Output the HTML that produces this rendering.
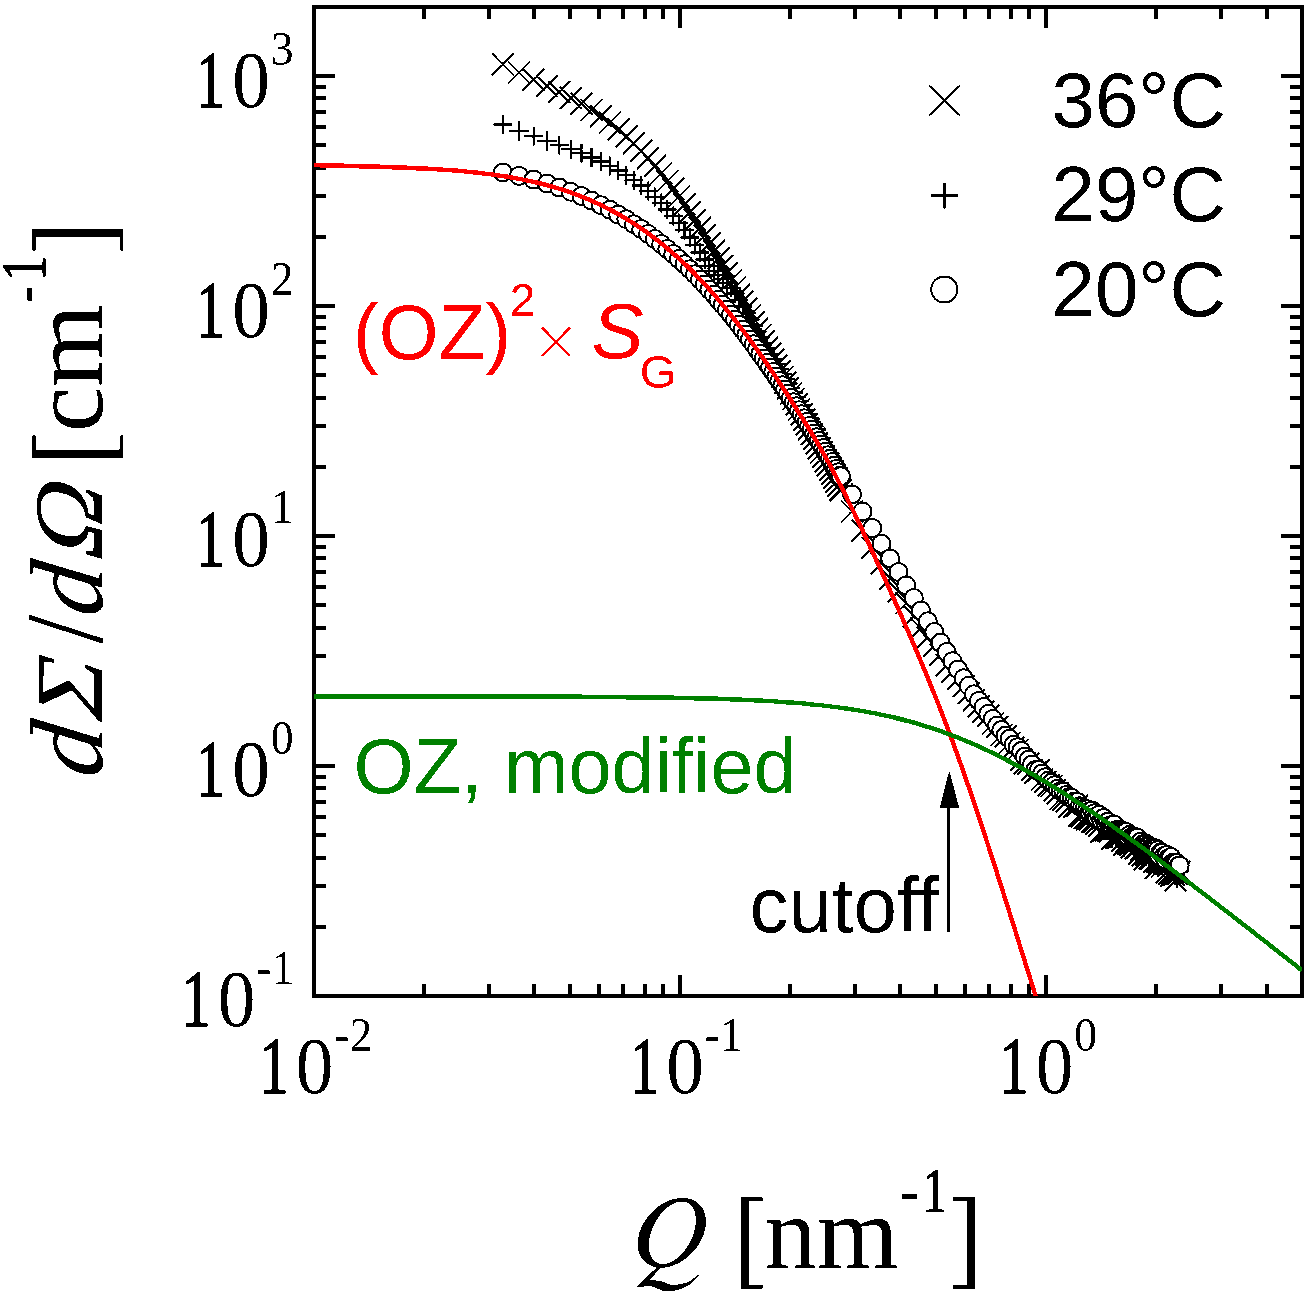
<!DOCTYPE html>
<html><head><meta charset="utf-8"><title>SANS plot</title>
<style>
html,body{margin:0;padding:0;background:#fff;}
svg{display:block}
text{font-family:"Liberation Serif",serif;fill:#000}
.s{font-family:"Liberation Sans",sans-serif}
</style></head><body>
<svg width="1313" height="1298" viewBox="0 0 1313 1298">
<defs>
<filter id="fk" x="0" y="0" width="1313" height="1298" filterUnits="userSpaceOnUse" color-interpolation-filters="sRGB"><feComponentTransfer><feFuncR type="discrete" tableValues="0 1"/><feFuncG type="discrete" tableValues="0 1"/><feFuncB type="discrete" tableValues="0 1"/><feFuncA type="discrete" tableValues="0 1"/></feComponentTransfer></filter>
<filter id="fa" x="0" y="0" width="1313" height="1298" filterUnits="userSpaceOnUse" color-interpolation-filters="sRGB"><feComponentTransfer><feFuncA type="discrete" tableValues="0 1"/></feComponentTransfer></filter>
</defs>
<rect width="1313" height="1298" fill="#fff"/>
<g filter="url(#fk)">
<g shape-rendering="crispEdges" stroke="#000" stroke-width="4" fill="none">
<rect x="314" y="7" width="988" height="989"/>
<path d="M424,996v-12M424,7v12M489,996v-12M489,7v12M534,996v-12M534,7v12M570,996v-12M570,7v12M599,996v-12M599,7v12M623,996v-12M623,7v12M645,996v-12M645,7v12M663,996v-12M663,7v12M680,996v-21M680,7v21M790,996v-12M790,7v12M855,996v-12M855,7v12M900,996v-12M900,7v12M936,996v-12M936,7v12M965,996v-12M965,7v12M989,996v-12M989,7v12M1011,996v-12M1011,7v12M1029,996v-12M1029,7v12M1046,996v-21M1046,7v21M1156,996v-12M1156,7v12M1221,996v-12M1221,7v12M1267,996v-12M1267,7v12M1302,996v-12M1302,7v12M314,927h12M1302,927h-12M314,886h12M1302,886h-12M314,858h12M1302,858h-12M314,835h12M1302,835h-12M314,817h12M1302,817h-12M314,802h12M1302,802h-12M314,788h12M1302,788h-12M314,777h12M1302,777h-12M314,766h21M1302,766h-21M314,697h12M1302,697h-12M314,656h12M1302,656h-12M314,628h12M1302,628h-12M314,605h12M1302,605h-12M314,587h12M1302,587h-12M314,572h12M1302,572h-12M314,558h12M1302,558h-12M314,547h12M1302,547h-12M314,536h21M1302,536h-21M314,467h12M1302,467h-12M314,426h12M1302,426h-12M314,398h12M1302,398h-12M314,375h12M1302,375h-12M314,357h12M1302,357h-12M314,342h12M1302,342h-12M314,328h12M1302,328h-12M314,317h12M1302,317h-12M314,306h21M1302,306h-21M314,237h12M1302,237h-12M314,196h12M1302,196h-12M314,168h12M1302,168h-12M314,145h12M1302,145h-12M314,127h12M1302,127h-12M314,112h12M1302,112h-12M314,98h12M1302,98h-12M314,87h12M1302,87h-12M314,76h21M1302,76h-21"/>
</g>
<path d="M491.8,53.2l22,22M491.8,75.2l22,-22M508.0,61.6l22,22M508.0,83.6l22,-22M522.6,68.7l22,22M522.6,90.7l22,-22M536.0,75.0l22,22M536.0,97.0l22,-22M548.4,81.0l22,22M548.4,103.0l22,-22M559.8,86.9l22,22M559.8,108.9l22,-22M570.5,92.8l22,22M570.5,114.8l22,-22M580.5,98.9l22,22M580.5,120.9l22,-22M590.0,105.1l22,22M590.0,127.1l22,-22M598.9,111.6l22,22M598.9,133.6l22,-22M607.3,118.3l22,22M607.3,140.3l22,-22M615.3,125.2l22,22M615.3,147.2l22,-22M622.9,132.4l22,22M622.9,154.4l22,-22M630.2,139.7l22,22M630.2,161.7l22,-22M637.1,147.2l22,22M637.1,169.2l22,-22M643.8,154.7l22,22M643.8,176.7l22,-22M650.2,162.4l22,22M650.2,184.4l22,-22M656.3,170.1l22,22M656.3,192.1l22,-22M662.2,177.9l22,22M662.2,199.9l22,-22M667.9,185.6l22,22M667.9,207.6l22,-22M673.5,193.4l22,22M673.5,215.4l22,-22M678.8,201.2l22,22M678.8,223.2l22,-22M683.9,209.0l22,22M683.9,231.0l22,-22M688.9,216.8l22,22M688.9,238.8l22,-22M693.7,224.5l22,22M693.7,246.5l22,-22M698.4,232.2l22,22M698.4,254.2l22,-22M703.0,239.8l22,22M703.0,261.8l22,-22M707.4,247.3l22,22M707.4,269.3l22,-22M711.7,254.8l22,22M711.7,276.8l22,-22M715.9,262.2l22,22M715.9,284.2l22,-22M720.0,269.4l22,22M720.0,291.4l22,-22M724.0,276.6l22,22M724.0,298.6l22,-22M727.9,283.7l22,22M727.9,305.7l22,-22M731.7,290.7l22,22M731.7,312.7l22,-22M735.4,297.6l22,22M735.4,319.6l22,-22M739.0,304.4l22,22M739.0,326.4l22,-22M742.6,311.1l22,22M742.6,333.1l22,-22M746.0,317.7l22,22M746.0,339.7l22,-22M749.4,324.1l22,22M749.4,346.1l22,-22M752.8,330.5l22,22M752.8,352.5l22,-22M756.0,336.7l22,22M756.0,358.7l22,-22M759.2,342.8l22,22M759.2,364.8l22,-22M762.3,348.8l22,22M762.3,370.8l22,-22M765.4,354.6l22,22M765.4,376.6l22,-22M768.4,360.4l22,22M768.4,382.4l22,-22M771.4,366.1l22,22M771.4,388.1l22,-22M774.2,371.7l22,22M774.2,393.7l22,-22M777.1,377.2l22,22M777.1,399.2l22,-22M779.9,382.6l22,22M779.9,404.6l22,-22M782.6,387.9l22,22M782.6,409.9l22,-22M785.3,393.2l22,22M785.3,415.2l22,-22M788.0,398.4l22,22M788.0,420.4l22,-22M790.6,403.4l22,22M790.6,425.4l22,-22M793.2,408.5l22,22M793.2,430.5l22,-22M795.7,413.4l22,22M795.7,435.4l22,-22M798.2,418.3l22,22M798.2,440.3l22,-22M800.6,423.0l22,22M800.6,445.0l22,-22M803.1,427.8l22,22M803.1,449.8l22,-22M805.4,432.4l22,22M805.4,454.4l22,-22M807.8,437.0l22,22M807.8,459.0l22,-22M810.1,441.4l22,22M810.1,463.4l22,-22M812.4,445.9l22,22M812.4,467.9l22,-22M814.6,450.2l22,22M814.6,472.2l22,-22M816.8,454.5l22,22M816.8,476.5l22,-22M819.0,458.7l22,22M819.0,480.7l22,-22M821.1,462.8l22,22M821.1,484.8l22,-22M823.3,466.9l22,22M823.3,488.9l22,-22M825.4,470.9l22,22M825.4,492.9l22,-22M827.4,474.8l22,22M827.4,496.8l22,-22M829.5,478.7l22,22M829.5,500.7l22,-22M829.9,479.5l22,22M829.9,501.5l22,-22M841.0,500.4l22,22M841.0,522.4l22,-22M851.5,519.6l22,22M851.5,541.6l22,-22M861.3,536.9l22,22M861.3,558.9l22,-22M870.5,552.3l22,22M870.5,574.3l22,-22M879.2,567.5l22,22M879.2,589.5l22,-22M887.5,580.4l22,22M887.5,602.4l22,-22M895.3,592.1l22,22M895.3,614.1l22,-22M902.8,605.3l22,22M902.8,627.3l22,-22M909.9,617.4l22,22M909.9,639.4l22,-22M916.8,626.5l22,22M916.8,648.5l22,-22M923.3,634.7l22,22M923.3,656.7l22,-22M929.6,643.7l22,22M929.6,665.7l22,-22M935.7,654.0l22,22M935.7,676.0l22,-22M941.5,660.8l22,22M941.5,682.8l22,-22M947.1,668.1l22,22M947.1,690.1l22,-22M952.6,675.0l22,22M952.6,697.0l22,-22M957.8,681.9l22,22M957.8,703.9l22,-22M962.9,689.4l22,22M962.9,711.4l22,-22M967.9,695.3l22,22M967.9,717.3l22,-22M972.6,700.8l22,22M972.6,722.8l22,-22M977.3,704.7l22,22M977.3,726.7l22,-22M981.8,712.6l22,22M981.8,734.6l22,-22M986.2,716.1l22,22M986.2,738.1l22,-22M990.4,724.1l22,22M990.4,746.1l22,-22M994.6,725.3l22,22M994.6,747.3l22,-22M998.6,731.9l22,22M998.6,753.9l22,-22M1002.6,736.8l22,22M1002.6,758.8l22,-22M1006.5,738.9l22,22M1006.5,760.9l22,-22M1010.2,748.6l22,22M1010.2,770.6l22,-22M1013.9,752.3l22,22M1013.9,774.3l22,-22M1017.5,752.7l22,22M1017.5,774.7l22,-22M1021.0,758.9l22,22M1021.0,780.9l22,-22M1024.4,761.8l22,22M1024.4,783.8l22,-22M1027.8,759.3l22,22M1027.8,781.3l22,-22M1031.1,768.4l22,22M1031.1,790.4l22,-22M1034.3,771.0l22,22M1034.3,793.0l22,-22M1037.5,774.4l22,22M1037.5,796.4l22,-22M1040.6,774.9l22,22M1040.6,796.9l22,-22M1043.6,779.4l22,22M1043.6,801.4l22,-22M1046.6,782.3l22,22M1046.6,804.3l22,-22M1049.5,787.9l22,22M1049.5,809.9l22,-22M1052.4,788.5l22,22M1052.4,810.5l22,-22M1055.3,790.2l22,22M1055.3,812.2l22,-22M1058.0,796.0l22,22M1058.0,818.0l22,-22M1060.8,793.4l22,22M1060.8,815.4l22,-22M1063.4,795.9l22,22M1063.4,817.9l22,-22M1066.1,794.6l22,22M1066.1,816.6l22,-22M1068.7,804.7l22,22M1068.7,826.7l22,-22M1071.2,805.2l22,22M1071.2,827.2l22,-22M1073.7,807.0l22,22M1073.7,829.0l22,-22M1076.2,808.2l22,22M1076.2,830.2l22,-22M1078.7,808.6l22,22M1078.7,830.6l22,-22M1081.1,810.6l22,22M1081.1,832.6l22,-22M1083.4,811.0l22,22M1083.4,833.0l22,-22M1085.7,812.8l22,22M1085.7,834.8l22,-22M1088.0,815.0l22,22M1088.0,837.0l22,-22M1090.3,820.4l22,22M1090.3,842.4l22,-22M1092.5,819.4l22,22M1092.5,841.4l22,-22M1094.7,819.2l22,22M1094.7,841.2l22,-22M1096.9,819.2l22,22M1096.9,841.2l22,-22M1099.0,820.4l22,22M1099.0,842.4l22,-22M1101.2,828.0l22,22M1101.2,850.0l22,-22M1103.2,826.3l22,22M1103.2,848.3l22,-22M1105.3,826.4l22,22M1105.3,848.4l22,-22M1107.3,826.5l22,22M1107.3,848.5l22,-22M1109.3,825.6l22,22M1109.3,847.6l22,-22M1111.3,829.8l22,22M1111.3,851.8l22,-22M1113.3,833.7l22,22M1113.3,855.7l22,-22M1115.2,831.2l22,22M1115.2,853.2l22,-22M1117.1,832.9l22,22M1117.1,854.9l22,-22M1119.0,834.1l22,22M1119.0,856.1l22,-22M1120.9,836.2l22,22M1120.9,858.2l22,-22M1122.7,832.2l22,22M1122.7,854.2l22,-22M1124.5,837.4l22,22M1124.5,859.4l22,-22M1126.3,836.6l22,22M1126.3,858.6l22,-22M1128.1,843.0l22,22M1128.1,865.0l22,-22M1129.9,838.9l22,22M1129.9,860.9l22,-22M1131.6,844.2l22,22M1131.6,866.2l22,-22M1133.3,848.2l22,22M1133.3,870.2l22,-22M1135.1,843.5l22,22M1135.1,865.5l22,-22M1136.7,843.6l22,22M1136.7,865.6l22,-22M1138.4,847.1l22,22M1138.4,869.1l22,-22M1140.1,847.5l22,22M1140.1,869.5l22,-22M1141.7,845.3l22,22M1141.7,867.3l22,-22M1143.3,851.0l22,22M1143.3,873.0l22,-22M1144.9,857.0l22,22M1144.9,879.0l22,-22M1146.5,850.6l22,22M1146.5,872.6l22,-22M1148.1,851.7l22,22M1148.1,873.7l22,-22M1149.6,849.9l22,22M1149.6,871.9l22,-22M1151.2,855.4l22,22M1151.2,877.4l22,-22M1152.7,851.1l22,22M1152.7,873.1l22,-22M1154.2,852.5l22,22M1154.2,874.5l22,-22M1155.7,861.4l22,22M1155.7,883.4l22,-22M1157.2,855.0l22,22M1157.2,877.0l22,-22M1158.7,862.7l22,22M1158.7,884.7l22,-22M1160.1,865.1l22,22M1160.1,887.1l22,-22M1161.5,861.8l22,22M1161.5,883.8l22,-22M1163.0,863.7l22,22M1163.0,885.7l22,-22M1164.4,869.4l22,22M1164.4,891.4l22,-22M1165.8,862.9l22,22M1165.8,884.9l22,-22M1167.2,862.5l22,22M1167.2,884.5l22,-22M1168.6,860.7l22,22M1168.6,882.7l22,-22" fill="none" stroke="#000" stroke-width="2"/>
<path d="M493.3,124.5h19M502.8,115.0v19M509.5,131.0h19M519.0,121.5v19M524.1,136.3h19M533.6,126.8v19M537.5,140.9h19M547.0,131.4v19M549.9,145.2h19M559.4,135.7v19M561.3,149.2h19M570.8,139.7v19M572.0,153.3h19M581.5,143.8v19M582.0,157.4h19M591.5,147.9v19M591.5,161.6h19M601.0,152.1v19M600.4,166.0h19M609.9,156.5v19M608.8,170.5h19M618.3,161.0v19M616.8,175.3h19M626.3,165.8v19M624.4,180.3h19M633.9,170.8v19M631.7,185.6h19M641.2,176.1v19M638.6,191.1h19M648.1,181.6v19M645.3,197.0h19M654.8,187.5v19M651.7,203.1h19M661.2,193.6v19M657.8,209.5h19M667.3,200.0v19M663.7,216.1h19M673.2,206.6v19M669.4,223.0h19M678.9,213.5v19M675.0,230.2h19M684.5,220.7v19M680.3,237.6h19M689.8,228.1v19M685.4,245.1h19M694.9,235.6v19M690.4,252.5h19M699.9,243.0v19M695.2,259.4h19M704.7,249.9v19M699.9,265.7h19M709.4,256.2v19M704.5,271.0h19M714.0,261.5v19M708.9,275.2h19M718.4,265.7v19M713.2,279.0h19M722.7,269.5v19M717.4,283.0h19M726.9,273.5v19M721.5,287.8h19M731.0,278.3v19M725.5,293.5h19M735.0,284.0v19M729.4,299.9h19M738.9,290.4v19M733.2,306.6h19M742.7,297.1v19M736.9,313.2h19M746.4,303.7v19M740.5,319.5h19M750.0,310.0v19M744.1,325.7h19M753.6,316.2v19M747.5,331.7h19M757.0,322.2v19M750.9,337.5h19M760.4,328.0v19M754.3,343.1h19M763.8,333.6v19M757.5,348.5h19M767.0,339.0v19M760.7,353.9h19M770.2,344.4v19M763.8,359.1h19M773.3,349.6v19M766.9,364.1h19M776.4,354.6v19M769.9,369.1h19M779.4,359.6v19M772.9,374.0h19M782.4,364.5v19M775.7,378.7h19M785.2,369.2v19M778.6,383.4h19M788.1,373.9v19M781.4,388.0h19M790.9,378.5v19M784.1,392.5h19M793.6,383.0v19M786.8,396.9h19M796.3,387.4v19M789.5,401.3h19M799.0,391.8v19M792.1,405.6h19M801.6,396.1v19M794.7,409.9h19M804.2,400.4v19M797.2,414.0h19M806.7,404.5v19M799.7,418.2h19M809.2,408.7v19M802.1,422.3h19M811.6,412.8v19M804.6,426.3h19M814.1,416.8v19M806.9,430.3h19M816.4,420.8v19M809.3,434.3h19M818.8,424.8v19M811.6,438.2h19M821.1,428.7v19M813.9,442.1h19M823.4,432.6v19M816.1,445.9h19M825.6,436.4v19M818.3,449.8h19M827.8,440.3v19M820.5,453.5h19M830.0,444.0v19M822.6,457.3h19M832.1,447.8v19M824.8,461.0h19M834.3,451.5v19M826.9,464.7h19M836.4,455.2v19M828.9,468.3h19M838.4,458.8v19M831.0,471.9h19M840.5,462.4v19M831.4,472.6h19M840.9,463.1v19M842.5,492.5h19M852.0,483.0v19M853.0,511.4h19M862.5,501.9v19M862.8,528.6h19M872.3,519.1v19M872.0,545.4h19M881.5,535.9v19M880.7,560.2h19M890.2,550.7v19M889.0,575.3h19M898.5,565.8v19M896.8,589.9h19M906.3,580.4v19M904.3,601.4h19M913.8,591.9v19M911.4,615.1h19M920.9,605.6v19M918.3,626.0h19M927.8,616.5v19M924.8,635.6h19M934.3,626.1v19M931.1,646.1h19M940.6,636.6v19M937.2,655.6h19M946.7,646.1v19M943.0,664.9h19M952.5,655.4v19M948.6,672.7h19M958.1,663.2v19M954.1,680.2h19M963.6,670.7v19M959.3,688.3h19M968.8,678.8v19M964.4,694.3h19M973.9,684.8v19M969.4,700.6h19M978.9,691.1v19M974.1,708.6h19M983.6,699.1v19M978.8,715.9h19M988.3,706.4v19M983.3,718.1h19M992.8,708.6v19M987.7,725.8h19M997.2,716.3v19M991.9,729.9h19M1001.4,720.4v19M996.1,734.3h19M1005.6,724.8v19M1000.1,742.1h19M1009.6,732.6v19M1004.1,744.3h19M1013.6,734.8v19M1008.0,752.1h19M1017.5,742.6v19M1011.7,752.2h19M1021.2,742.7v19M1015.4,758.3h19M1024.9,748.8v19M1019.0,761.0h19M1028.5,751.5v19M1022.5,763.7h19M1032.0,754.2v19M1025.9,769.8h19M1035.4,760.3v19M1029.3,771.7h19M1038.8,762.2v19M1032.6,776.5h19M1042.1,767.0v19M1035.8,778.4h19M1045.3,768.9v19M1039.0,779.2h19M1048.5,769.7v19M1042.1,784.2h19M1051.6,774.7v19M1045.1,787.4h19M1054.6,777.9v19M1048.1,792.1h19M1057.6,782.6v19M1051.0,790.7h19M1060.5,781.2v19M1053.9,795.2h19M1063.4,785.7v19M1056.8,793.8h19M1066.3,784.3v19M1059.5,801.6h19M1069.0,792.1v19M1062.3,799.9h19M1071.8,790.4v19M1064.9,800.5h19M1074.4,791.0v19M1067.6,806.8h19M1077.1,797.3v19M1070.2,811.7h19M1079.7,802.2v19M1072.7,807.4h19M1082.2,797.9v19M1075.2,810.4h19M1084.7,800.9v19M1077.7,813.2h19M1087.2,803.7v19M1080.2,814.1h19M1089.7,804.6v19M1082.6,819.8h19M1092.1,810.3v19M1084.9,818.6h19M1094.4,809.1v19M1087.2,820.5h19M1096.7,811.0v19M1089.5,825.6h19M1099.0,816.1v19M1091.8,823.8h19M1101.3,814.3v19M1094.0,828.6h19M1103.5,819.1v19M1096.2,826.3h19M1105.7,816.8v19M1098.4,827.2h19M1107.9,817.7v19M1100.5,827.0h19M1110.0,817.5v19M1102.7,838.7h19M1112.2,829.2v19M1104.7,834.0h19M1114.2,824.5v19M1106.8,837.0h19M1116.3,827.5v19M1108.8,837.6h19M1118.3,828.1v19M1110.8,839.5h19M1120.3,830.0v19M1112.8,840.5h19M1122.3,831.0v19M1114.8,847.2h19M1124.3,837.7v19M1116.7,839.8h19M1126.2,830.3v19M1118.6,839.5h19M1128.1,830.0v19M1120.5,842.3h19M1130.0,832.8v19M1122.4,842.5h19M1131.9,833.0v19M1124.2,849.9h19M1133.7,840.4v19M1126.0,851.2h19M1135.5,841.7v19M1127.8,846.9h19M1137.3,837.4v19M1129.6,846.7h19M1139.1,837.2v19M1131.4,850.9h19M1140.9,841.4v19M1133.1,857.4h19M1142.6,847.9v19M1134.8,845.3h19M1144.3,835.8v19M1136.6,856.7h19M1146.1,847.2v19M1138.2,852.7h19M1147.7,843.2v19M1139.9,860.3h19M1149.4,850.8v19M1141.6,854.5h19M1151.1,845.0v19M1143.2,858.0h19M1152.7,848.5v19M1144.8,855.0h19M1154.3,845.5v19M1146.4,857.5h19M1155.9,848.0v19M1148.0,866.1h19M1157.5,856.6v19M1149.6,865.1h19M1159.1,855.6v19M1151.1,862.0h19M1160.6,852.5v19M1152.7,861.3h19M1162.2,851.8v19M1154.2,858.7h19M1163.7,849.2v19M1155.7,864.5h19M1165.2,855.0v19M1157.2,866.5h19M1166.7,857.0v19M1158.7,867.1h19M1168.2,857.6v19M1160.2,867.8h19M1169.7,858.3v19M1161.6,865.1h19M1171.1,855.6v19M1163.0,869.4h19M1172.5,859.9v19M1164.5,870.3h19M1174.0,860.8v19M1165.9,875.6h19M1175.4,866.1v19M1167.3,878.3h19M1176.8,868.8v19M1168.7,872.1h19M1178.2,862.6v19M1170.1,870.6h19M1179.6,861.1v19" fill="none" stroke="#000" stroke-width="2"/>
<g fill="#fff" stroke="#000" stroke-width="2">
<circle cx="502.8" cy="172.4" r="9"/>
<circle cx="519.0" cy="175.9" r="9"/>
<circle cx="533.6" cy="179.6" r="9"/>
<circle cx="547.0" cy="183.5" r="9"/>
<circle cx="559.4" cy="187.6" r="9"/>
<circle cx="570.8" cy="191.8" r="9"/>
<circle cx="581.5" cy="196.1" r="9"/>
<circle cx="591.5" cy="200.6" r="9"/>
<circle cx="601.0" cy="205.2" r="9"/>
<circle cx="609.9" cy="209.8" r="9"/>
<circle cx="618.3" cy="214.6" r="9"/>
<circle cx="626.3" cy="219.3" r="9"/>
<circle cx="633.9" cy="224.2" r="9"/>
<circle cx="641.2" cy="229.1" r="9"/>
<circle cx="648.1" cy="234.0" r="9"/>
<circle cx="654.8" cy="239.0" r="9"/>
<circle cx="661.2" cy="244.0" r="9"/>
<circle cx="667.3" cy="249.0" r="9"/>
<circle cx="673.2" cy="254.1" r="9"/>
<circle cx="678.9" cy="259.1" r="9"/>
<circle cx="684.5" cy="264.2" r="9"/>
<circle cx="689.8" cy="269.2" r="9"/>
<circle cx="694.9" cy="274.3" r="9"/>
<circle cx="699.9" cy="279.4" r="9"/>
<circle cx="704.7" cy="284.5" r="9"/>
<circle cx="709.4" cy="289.6" r="9"/>
<circle cx="714.0" cy="294.6" r="9"/>
<circle cx="718.4" cy="299.7" r="9"/>
<circle cx="722.7" cy="304.8" r="9"/>
<circle cx="726.9" cy="309.8" r="9"/>
<circle cx="731.0" cy="314.8" r="9"/>
<circle cx="735.0" cy="319.8" r="9"/>
<circle cx="738.9" cy="324.8" r="9"/>
<circle cx="742.7" cy="329.7" r="9"/>
<circle cx="746.4" cy="334.6" r="9"/>
<circle cx="750.0" cy="339.5" r="9"/>
<circle cx="753.6" cy="344.3" r="9"/>
<circle cx="757.0" cy="349.1" r="9"/>
<circle cx="760.4" cy="353.8" r="9"/>
<circle cx="763.8" cy="358.5" r="9"/>
<circle cx="767.0" cy="363.1" r="9"/>
<circle cx="770.2" cy="367.6" r="9"/>
<circle cx="773.3" cy="372.1" r="9"/>
<circle cx="776.4" cy="376.6" r="9"/>
<circle cx="779.4" cy="381.0" r="9"/>
<circle cx="782.4" cy="385.3" r="9"/>
<circle cx="785.2" cy="389.6" r="9"/>
<circle cx="788.1" cy="393.8" r="9"/>
<circle cx="790.9" cy="398.0" r="9"/>
<circle cx="793.6" cy="402.2" r="9"/>
<circle cx="796.3" cy="406.2" r="9"/>
<circle cx="799.0" cy="410.3" r="9"/>
<circle cx="801.6" cy="414.3" r="9"/>
<circle cx="804.2" cy="418.2" r="9"/>
<circle cx="806.7" cy="422.1" r="9"/>
<circle cx="809.2" cy="425.9" r="9"/>
<circle cx="811.6" cy="429.7" r="9"/>
<circle cx="814.1" cy="433.5" r="9"/>
<circle cx="816.4" cy="437.2" r="9"/>
<circle cx="818.8" cy="440.9" r="9"/>
<circle cx="821.1" cy="444.5" r="9"/>
<circle cx="823.4" cy="448.1" r="9"/>
<circle cx="825.6" cy="451.7" r="9"/>
<circle cx="827.8" cy="455.2" r="9"/>
<circle cx="830.0" cy="458.7" r="9"/>
<circle cx="832.1" cy="462.1" r="9"/>
<circle cx="834.3" cy="465.6" r="9"/>
<circle cx="836.4" cy="468.9" r="9"/>
<circle cx="838.4" cy="472.3" r="9"/>
<circle cx="840.5" cy="475.6" r="9"/>
<circle cx="840.9" cy="476.2" r="9"/>
<circle cx="852.0" cy="494.4" r="9"/>
<circle cx="862.5" cy="511.6" r="9"/>
<circle cx="872.3" cy="528.0" r="9"/>
<circle cx="881.5" cy="543.7" r="9"/>
<circle cx="890.2" cy="558.4" r="9"/>
<circle cx="898.5" cy="572.1" r="9"/>
<circle cx="906.3" cy="585.4" r="9"/>
<circle cx="913.8" cy="598.0" r="9"/>
<circle cx="920.9" cy="610.6" r="9"/>
<circle cx="927.8" cy="621.3" r="9"/>
<circle cx="934.3" cy="632.1" r="9"/>
<circle cx="940.6" cy="642.6" r="9"/>
<circle cx="946.7" cy="652.1" r="9"/>
<circle cx="952.5" cy="661.2" r="9"/>
<circle cx="958.1" cy="669.4" r="9"/>
<circle cx="963.6" cy="678.3" r="9"/>
<circle cx="968.8" cy="685.8" r="9"/>
<circle cx="973.9" cy="694.2" r="9"/>
<circle cx="978.9" cy="700.9" r="9"/>
<circle cx="983.6" cy="707.0" r="9"/>
<circle cx="988.3" cy="713.8" r="9"/>
<circle cx="992.8" cy="718.9" r="9"/>
<circle cx="997.2" cy="725.6" r="9"/>
<circle cx="1001.4" cy="730.1" r="9"/>
<circle cx="1005.6" cy="735.6" r="9"/>
<circle cx="1009.6" cy="738.8" r="9"/>
<circle cx="1013.6" cy="744.8" r="9"/>
<circle cx="1017.5" cy="747.3" r="9"/>
<circle cx="1021.2" cy="751.1" r="9"/>
<circle cx="1024.9" cy="756.6" r="9"/>
<circle cx="1028.5" cy="759.8" r="9"/>
<circle cx="1032.0" cy="764.4" r="9"/>
<circle cx="1035.4" cy="769.9" r="9"/>
<circle cx="1038.8" cy="770.1" r="9"/>
<circle cx="1042.1" cy="773.5" r="9"/>
<circle cx="1045.3" cy="777.3" r="9"/>
<circle cx="1048.5" cy="780.5" r="9"/>
<circle cx="1051.6" cy="782.6" r="9"/>
<circle cx="1054.6" cy="785.2" r="9"/>
<circle cx="1057.6" cy="788.7" r="9"/>
<circle cx="1060.5" cy="791.0" r="9"/>
<circle cx="1063.4" cy="791.5" r="9"/>
<circle cx="1066.3" cy="794.9" r="9"/>
<circle cx="1069.0" cy="797.2" r="9"/>
<circle cx="1071.8" cy="797.9" r="9"/>
<circle cx="1074.4" cy="801.5" r="9"/>
<circle cx="1077.1" cy="802.0" r="9"/>
<circle cx="1079.7" cy="806.2" r="9"/>
<circle cx="1082.2" cy="807.0" r="9"/>
<circle cx="1084.7" cy="808.6" r="9"/>
<circle cx="1087.2" cy="809.3" r="9"/>
<circle cx="1089.7" cy="811.6" r="9"/>
<circle cx="1092.1" cy="810.6" r="9"/>
<circle cx="1094.4" cy="813.2" r="9"/>
<circle cx="1096.7" cy="816.8" r="9"/>
<circle cx="1099.0" cy="814.7" r="9"/>
<circle cx="1101.3" cy="820.3" r="9"/>
<circle cx="1103.5" cy="817.9" r="9"/>
<circle cx="1105.7" cy="822.9" r="9"/>
<circle cx="1107.9" cy="821.8" r="9"/>
<circle cx="1110.0" cy="825.5" r="9"/>
<circle cx="1112.2" cy="825.7" r="9"/>
<circle cx="1114.2" cy="824.4" r="9"/>
<circle cx="1116.3" cy="829.9" r="9"/>
<circle cx="1118.3" cy="831.3" r="9"/>
<circle cx="1120.3" cy="830.1" r="9"/>
<circle cx="1122.3" cy="830.9" r="9"/>
<circle cx="1124.3" cy="832.2" r="9"/>
<circle cx="1126.2" cy="832.0" r="9"/>
<circle cx="1128.1" cy="836.5" r="9"/>
<circle cx="1130.0" cy="834.8" r="9"/>
<circle cx="1131.9" cy="836.7" r="9"/>
<circle cx="1133.7" cy="836.5" r="9"/>
<circle cx="1135.5" cy="837.8" r="9"/>
<circle cx="1137.3" cy="837.7" r="9"/>
<circle cx="1139.1" cy="843.1" r="9"/>
<circle cx="1140.9" cy="841.7" r="9"/>
<circle cx="1142.6" cy="844.6" r="9"/>
<circle cx="1144.3" cy="844.0" r="9"/>
<circle cx="1146.1" cy="843.7" r="9"/>
<circle cx="1147.7" cy="845.4" r="9"/>
<circle cx="1149.4" cy="845.9" r="9"/>
<circle cx="1151.1" cy="847.9" r="9"/>
<circle cx="1152.7" cy="848.2" r="9"/>
<circle cx="1154.3" cy="849.3" r="9"/>
<circle cx="1155.9" cy="848.3" r="9"/>
<circle cx="1157.5" cy="850.3" r="9"/>
<circle cx="1159.1" cy="855.8" r="9"/>
<circle cx="1160.6" cy="852.5" r="9"/>
<circle cx="1162.2" cy="852.7" r="9"/>
<circle cx="1163.7" cy="856.3" r="9"/>
<circle cx="1165.2" cy="859.3" r="9"/>
<circle cx="1166.7" cy="854.9" r="9"/>
<circle cx="1168.2" cy="858.2" r="9"/>
<circle cx="1169.7" cy="858.4" r="9"/>
<circle cx="1171.1" cy="857.1" r="9"/>
<circle cx="1172.5" cy="863.0" r="9"/>
<circle cx="1174.0" cy="862.5" r="9"/>
<circle cx="1175.4" cy="863.6" r="9"/>
<circle cx="1176.8" cy="863.0" r="9"/>
<circle cx="1178.2" cy="866.4" r="9"/>
<circle cx="1179.6" cy="865.4" r="9"/>
</g>
</g>
<clipPath id="cp"><rect x="314" y="7" width="988" height="989"/></clipPath>
<g filter="url(#fa)"><path clip-path="url(#cp)" d="M314.0,165.0 L317.0,165.1 L320.0,165.2 L323.0,165.3 L326.0,165.4 L329.0,165.4 L332.0,165.5 L335.0,165.6 L338.0,165.7 L341.0,165.7 L344.0,165.8 L347.0,165.9 L350.0,166.0 L353.0,166.0 L356.0,166.1 L359.0,166.2 L362.0,166.3 L365.0,166.4 L368.0,166.4 L371.0,166.5 L374.0,166.6 L377.0,166.7 L380.0,166.8 L383.0,166.9 L386.0,167.0 L389.0,167.1 L392.0,167.2 L395.0,167.3 L398.0,167.4 L401.0,167.5 L404.0,167.6 L407.0,167.8 L410.0,167.9 L413.0,168.0 L416.0,168.2 L419.0,168.3 L422.0,168.4 L425.0,168.6 L428.0,168.8 L431.0,168.9 L434.0,169.1 L437.0,169.3 L440.0,169.5 L443.0,169.7 L446.0,169.9 L449.0,170.1 L452.0,170.3 L455.0,170.6 L458.0,170.8 L461.0,171.1 L464.0,171.3 L467.0,171.6 L470.0,171.9 L473.0,172.2 L476.0,172.5 L479.0,172.9 L482.0,173.2 L485.0,173.6 L488.0,173.9 L491.0,174.3 L494.0,174.7 L497.0,175.2 L500.0,175.6 L503.0,176.1 L506.0,176.5 L509.0,177.0 L512.0,177.5 L515.0,178.1 L518.0,178.6 L521.0,179.2 L524.0,179.8 L527.0,180.4 L530.0,181.1 L533.0,181.7 L536.0,182.4 L539.0,183.1 L542.0,183.9 L545.0,184.7 L548.0,185.5 L551.0,186.3 L554.0,187.2 L557.0,188.0 L560.0,189.0 L563.0,189.9 L566.0,190.9 L569.0,191.9 L572.0,193.0 L575.0,194.1 L578.0,195.2 L581.0,196.4 L584.0,197.6 L587.0,198.8 L590.0,200.1 L593.0,201.4 L596.0,202.8 L599.0,204.2 L602.0,205.6 L605.0,207.1 L608.0,208.6 L611.0,210.2 L614.0,211.8 L617.0,213.4 L620.0,215.1 L623.0,216.9 L626.0,218.7 L629.0,220.5 L632.0,222.4 L635.0,224.3 L638.0,226.3 L641.0,228.3 L644.0,230.4 L647.0,232.5 L650.0,234.7 L653.0,237.0 L656.0,239.3 L659.0,241.6 L662.0,244.0 L665.0,246.4 L668.0,249.0 L671.0,251.5 L674.0,254.1 L677.0,256.8 L680.0,259.6 L683.0,262.3 L686.0,265.2 L689.0,268.1 L692.0,271.1 L695.0,274.1 L698.0,277.2 L701.0,280.3 L704.0,283.5 L707.0,286.8 L710.0,290.1 L713.0,293.5 L716.0,296.9 L719.0,300.4 L722.0,304.0 L725.0,307.6 L728.0,311.3 L731.0,315.0 L734.0,318.8 L737.0,322.6 L740.0,326.5 L743.0,330.5 L746.0,334.5 L749.0,338.5 L752.0,342.7 L755.0,346.8 L758.0,351.0 L761.0,355.3 L764.0,359.6 L767.0,364.0 L770.0,368.4 L773.0,372.8 L776.0,377.3 L779.0,381.8 L782.0,386.4 L785.0,391.0 L788.0,395.6 L791.0,400.3 L794.0,405.0 L797.0,409.7 L800.0,414.5 L803.0,419.2 L806.0,424.0 L809.0,428.9 L812.0,433.8 L815.0,438.8 L818.0,443.9 L821.0,449.1 L824.0,454.4 L827.0,459.8 L830.0,465.3 L833.0,470.9 L836.0,476.6 L839.0,482.4 L842.0,488.3 L845.0,494.3 L848.0,500.4 L851.0,506.5 L854.0,512.6 L857.0,518.9 L860.0,525.2 L863.0,531.5 L866.0,537.9 L869.0,544.3 L872.0,550.8 L875.0,557.3 L878.0,563.8 L881.0,570.4 L884.0,577.0 L887.0,583.6 L890.0,590.3 L893.0,597.0 L896.0,603.8 L899.0,610.6 L902.0,617.4 L905.0,624.3 L908.0,631.2 L911.0,638.1 L914.0,645.1 L917.0,652.2 L920.0,659.3 L923.0,666.4 L926.0,673.6 L929.0,680.9 L932.0,688.3 L935.0,695.8 L938.0,703.3 L941.0,711.0 L944.0,718.7 L947.0,726.6 L950.0,734.6 L953.0,742.7 L956.0,750.9 L959.0,759.3 L962.0,767.7 L965.0,776.3 L968.0,785.0 L971.0,793.8 L974.0,802.6 L977.0,811.6 L980.0,820.6 L983.0,829.7 L986.0,838.9 L989.0,848.1 L992.0,857.4 L995.0,866.7 L998.0,876.1 L1001.0,885.6 L1004.0,895.1 L1007.0,904.6 L1010.0,914.1 L1013.0,923.7 L1016.0,933.2 L1019.0,942.8 L1022.0,952.4 L1025.0,962.0 L1028.0,971.6 L1031.0,981.2 L1034.0,990.8 L1037.0,1000.3 L1040.0,1009.9 L1043.0,1019.4" fill="none" stroke="#f00" stroke-width="4.4"/></g>
<g filter="url(#fa)"><path clip-path="url(#cp)" d="M314.0,696.5 L318.0,696.5 L322.0,696.5 L326.0,696.5 L330.0,696.5 L334.0,696.5 L338.0,696.5 L342.0,696.5 L346.0,696.5 L350.0,696.5 L354.0,696.5 L358.0,696.5 L362.0,696.5 L366.0,696.5 L370.0,696.5 L374.0,696.5 L378.0,696.5 L382.0,696.5 L386.0,696.5 L390.0,696.5 L394.0,696.5 L398.0,696.5 L402.0,696.5 L406.0,696.5 L410.0,696.5 L414.0,696.5 L418.0,696.5 L422.0,696.5 L426.0,696.5 L430.0,696.5 L434.0,696.5 L438.0,696.5 L442.0,696.5 L446.0,696.5 L450.0,696.5 L454.0,696.5 L458.0,696.5 L462.0,696.5 L466.0,696.5 L470.0,696.5 L474.0,696.5 L478.0,696.6 L482.0,696.6 L486.0,696.6 L490.0,696.6 L494.0,696.6 L498.0,696.6 L502.0,696.6 L506.0,696.6 L510.0,696.6 L514.0,696.6 L518.0,696.6 L522.0,696.6 L526.0,696.6 L530.0,696.7 L534.0,696.7 L538.0,696.7 L542.0,696.7 L546.0,696.7 L550.0,696.7 L554.0,696.7 L558.0,696.7 L562.0,696.8 L566.0,696.8 L570.0,696.8 L574.0,696.8 L578.0,696.8 L582.0,696.8 L586.0,696.9 L590.0,696.9 L594.0,696.9 L598.0,696.9 L602.0,697.0 L606.0,697.0 L610.0,697.0 L614.0,697.1 L618.0,697.1 L622.0,697.1 L626.0,697.2 L630.0,697.2 L634.0,697.2 L638.0,697.3 L642.0,697.3 L646.0,697.4 L650.0,697.4 L654.0,697.5 L658.0,697.5 L662.0,697.6 L666.0,697.7 L670.0,697.7 L674.0,697.8 L678.0,697.9 L682.0,697.9 L686.0,698.0 L690.0,698.1 L694.0,698.2 L698.0,698.3 L702.0,698.4 L706.0,698.5 L710.0,698.6 L714.0,698.7 L718.0,698.8 L722.0,699.0 L726.0,699.1 L730.0,699.2 L734.0,699.4 L738.0,699.5 L742.0,699.7 L746.0,699.9 L750.0,700.1 L754.0,700.2 L758.0,700.4 L762.0,700.7 L766.0,700.9 L770.0,701.1 L774.0,701.4 L778.0,701.6 L782.0,701.9 L786.0,702.2 L790.0,702.5 L794.0,702.8 L798.0,703.1 L802.0,703.4 L806.0,703.8 L810.0,704.2 L814.0,704.6 L818.0,705.0 L822.0,705.4 L826.0,705.9 L830.0,706.4 L834.0,706.9 L838.0,707.4 L842.0,707.9 L846.0,708.5 L850.0,709.1 L854.0,709.7 L858.0,710.3 L862.0,711.0 L866.0,711.7 L870.0,712.5 L874.0,713.2 L878.0,714.0 L882.0,714.8 L886.0,715.7 L890.0,716.6 L894.0,717.5 L898.0,718.5 L902.0,719.5 L906.0,720.5 L910.0,721.6 L914.0,722.7 L918.0,723.9 L922.0,725.1 L926.0,726.3 L930.0,727.6 L934.0,728.9 L938.0,730.2 L942.0,731.6 L946.0,733.1 L950.0,734.5 L954.0,736.1 L958.0,737.6 L962.0,739.2 L966.0,740.9 L970.0,742.6 L974.0,744.3 L978.0,746.1 L982.0,747.9 L986.0,749.8 L990.0,751.7 L994.0,753.6 L998.0,755.6 L1002.0,757.6 L1006.0,759.7 L1010.0,761.8 L1014.0,763.9 L1018.0,766.1 L1022.0,768.3 L1026.0,770.5 L1030.0,772.8 L1034.0,775.1 L1038.0,777.5 L1042.0,779.8 L1046.0,782.2 L1050.0,784.7 L1054.0,787.2 L1058.0,789.7 L1062.0,792.2 L1066.0,794.7 L1070.0,797.3 L1074.0,799.9 L1078.0,802.6 L1082.0,805.2 L1086.0,807.9 L1090.0,810.6 L1094.0,813.3 L1098.0,816.1 L1102.0,818.8 L1106.0,821.6 L1110.0,824.4 L1114.0,827.2 L1118.0,830.1 L1122.0,832.9 L1126.0,835.8 L1130.0,838.7 L1134.0,841.6 L1138.0,844.5 L1142.0,847.4 L1146.0,850.3 L1150.0,853.3 L1154.0,856.3 L1158.0,859.2 L1162.0,862.2 L1166.0,865.2 L1170.0,868.2 L1174.0,871.2 L1178.0,874.2 L1182.0,877.3 L1186.0,880.3 L1190.0,883.3 L1194.0,886.4 L1198.0,889.4 L1202.0,892.5 L1206.0,895.6 L1210.0,898.6 L1214.0,901.7 L1218.0,904.8 L1222.0,907.9 L1226.0,911.0 L1230.0,914.1 L1234.0,917.2 L1238.0,920.3 L1242.0,923.4 L1246.0,926.5 L1250.0,929.6 L1254.0,932.8 L1258.0,935.9 L1262.0,939.0 L1266.0,942.1 L1270.0,945.3 L1274.0,948.4 L1278.0,951.6 L1282.0,954.7 L1286.0,957.8 L1290.0,961.0 L1294.0,964.1 L1298.0,967.3 L1302.0,970.4" fill="none" stroke="#008000" stroke-width="4.4"/></g>
<g filter="url(#fa)">
<!-- tick labels -->
<g font-size="81">
<text transform="translate(195.9,107) scale(0.72,1)" stroke="#000" stroke-width="1.3">1</text><text transform="translate(232.2,107) scale(0.93,1)">0<tspan font-size="49" dy="-42.5" dx="1">3</tspan></text>
<text transform="translate(195.9,337) scale(0.72,1)" stroke="#000" stroke-width="1.3">1</text><text transform="translate(232.2,337) scale(0.93,1)">0<tspan font-size="49" dy="-42.5" dx="1">2</tspan></text>
<text transform="translate(195.9,565.5) scale(0.72,1)" stroke="#000" stroke-width="1.3">1</text><text transform="translate(232.2,565.5) scale(0.93,1)">0<tspan font-size="49" dy="-42.5" dx="1">1</tspan></text>
<text transform="translate(195.9,796) scale(0.72,1)" stroke="#000" stroke-width="1.3">1</text><text transform="translate(232.2,796) scale(0.93,1)">0<tspan font-size="49" dy="-42.5" dx="1">0</tspan></text>
<text transform="translate(181.4,1026) scale(0.72,1)" stroke="#000" stroke-width="1.3">1</text><text transform="translate(217.7,1026) scale(0.93,1)">0<tspan font-size="49" dy="-42.5" dx="1">-1</tspan></text>
<text transform="translate(259.4,1093) scale(0.72,1)" stroke="#000" stroke-width="1.3">1</text><text transform="translate(295.7,1093) scale(0.93,1)">0<tspan font-size="49" dy="-42.5" dx="1">-2</tspan></text>
<text transform="translate(629.9,1093) scale(0.72,1)" stroke="#000" stroke-width="1.3">1</text><text transform="translate(666.2,1093) scale(0.93,1)">0<tspan font-size="49" dy="-42.5" dx="1">-1</tspan></text>
<text transform="translate(999.4,1093) scale(0.72,1)" stroke="#000" stroke-width="1.3">1</text><text transform="translate(1035.7,1093) scale(0.93,1)">0<tspan font-size="49" dy="-42.5" dx="1">0</tspan></text>
</g>
<!-- legend -->
<g class="s" font-size="78">
<text class="s" x="1051.5" y="127">36°C</text>
<text class="s" x="1051.5" y="221">29°C</text>
<text class="s" x="1051.5" y="316">20°C</text>
</g>
<g fill="none" stroke="#000" stroke-width="2">
<path d="M929,85.5l31,30M929,115.5l31,-30"/>
<path d="M931,195.5h27M944.5,183v25.5"/>
<circle cx="944.3" cy="289.5" r="13"/>
</g>
<!-- annotations -->
<text class="s" font-size="77" x="353" y="359" style="fill:#f00">(OZ)<tspan font-size="46" dy="-43" dx="-1.5">2</tspan><tspan dy="42" dx="56.3" font-size="78" font-style="italic">S</tspan><tspan font-size="47" dy="30" dx="-4">G</tspan></text>
<path d="M542,327.5l28,28.5M542,356l28,-28.5" fill="none" stroke="#f00" stroke-width="2.4"/>
<text class="s" font-size="77.4" x="353.5" y="793" style="fill:#008000">OZ, modified</text>
<text class="s" font-size="78" x="749.5" y="932">cutoff</text>
<path d="M948.8,932V800" stroke="#000" stroke-width="3" fill="none"/>
<path d="M949.3,770.5L939.8,808H959.2Z" fill="#000"/>
<!-- axis titles -->
<path fill-rule="evenodd" d="M704.2,1232.8 L702.5,1237.4 L700.3,1241.8 L697.7,1246.2 L694.5,1250.2 L691.0,1254.0 L687.2,1257.5 L683.1,1260.5 L678.8,1263.0 L674.3,1265.0 L669.9,1266.5 L665.5,1267.4 L661.1,1267.7 L657.0,1267.4 L653.1,1266.5 L649.5,1265.0 L646.4,1263.0 L643.6,1260.5 L641.3,1257.5 L639.6,1254.0 L638.4,1250.2 L637.8,1246.2 L637.7,1241.8 L638.3,1237.4 L639.4,1232.8 L641.1,1228.2 L643.3,1223.8 L645.9,1219.4 L649.1,1215.3 L652.6,1211.6 L656.4,1208.1 L660.5,1205.1 L664.8,1202.6 L669.3,1200.6 L673.7,1199.1 L678.1,1198.2 L682.5,1197.9 L686.6,1198.2 L690.5,1199.1 L694.1,1200.6 L697.2,1202.6 L700.0,1205.1 L702.3,1208.1 L704.0,1211.6 L705.2,1215.3 L705.8,1219.4 L705.9,1223.8 L705.3,1228.2ZM693.8,1232.8 L694.9,1228.7 L695.5,1224.7 L695.8,1220.8 L695.7,1217.1 L695.2,1213.7 L694.3,1210.7 L693.0,1208.0 L691.3,1205.7 L689.4,1203.9 L687.1,1202.6 L684.6,1201.8 L681.9,1201.5 L679.0,1201.8 L676.0,1202.6 L672.9,1203.9 L669.8,1205.7 L666.8,1208.0 L663.9,1210.7 L661.1,1213.7 L658.5,1217.1 L656.1,1220.8 L654.0,1224.7 L652.2,1228.7 L650.8,1232.8 L649.7,1236.9 L649.1,1240.9 L648.8,1244.8 L648.9,1248.5 L649.4,1251.9 L650.3,1254.9 L651.6,1257.6 L653.3,1259.9 L655.2,1261.7 L657.5,1263.0 L660.0,1263.8 L662.7,1264.1 L665.6,1263.8 L668.6,1263.0 L671.7,1261.7 L674.8,1259.9 L677.8,1257.6 L680.7,1254.9 L683.5,1251.9 L686.1,1248.5 L688.5,1244.8 L690.6,1240.9 L692.4,1236.9Z"/>
<path d="M657.5,1266.8 L637.1,1286.0 L637.6,1287.6 C643,1286.6 647,1285.6 650.5,1286 C655,1286.6 657,1288.6 660.2,1289.7 C664,1291 668,1291.4 671.2,1291.1 C675,1290.8 678,1290.3 680.9,1289.1 C684,1287.8 687,1286.6 689.5,1284.8 C693,1282 696,1279 699,1275.4 L698,1274.8 C696.5,1276.5 695,1277.7 693.1,1278.7 C690,1281 687,1283 683.4,1283.6 C679,1284.6 675,1285.4 671.2,1284.8 C667,1284 664,1281.8 660.2,1281.1 C656.5,1280.3 653,1280.2 649.2,1280.5 L661,1267.2 Z"/>
<g transform="translate(0,1267.6)">
<!--Q-->
<path d="M740.9,-70.2H762.7v3.6H748.9V17.4H762.7v3.6H740.9Z"/>
<text font-size="104" transform="translate(764.6,0) scale(1.007,1)">nm</text>
<text font-size="63" transform="translate(899.8,-56) scale(0.917,1)">-</text>
<text font-size="63" stroke="#000" stroke-width="1.2" transform="translate(922.8,-56) scale(0.755,1)">1</text>
<path d="M975.0,-70.2H952.9v3.6H967.0V17.4H952.9v3.6H975.0Z"/>
</g>
<g transform="translate(102.3,800) rotate(-90)">
<text font-size="104" font-style="italic" transform="translate(20.7,0) skewX(-7) scale(1.016,1)">d</text>
<text font-size="104" font-style="italic" transform="translate(78.0,0) skewX(-5) scale(1.026,0.925)">Σ</text>
<text font-size="104" transform="translate(156.2,0) scale(1.003,1.065)">/</text>
<text font-size="104" font-style="italic" transform="translate(181.8,0) skewX(-7) scale(0.989,1)">d</text>
<text font-size="104" font-style="italic" transform="translate(238.8,0) skewX(-9) scale(1.014,0.95)">Ω</text>
<path d="M342.3,-70.2H364.5v3.6H350.3V17.4H364.5v3.6H342.3Z"/>
<text font-size="104" transform="translate(368.1,0) scale(0.979,1)">c</text>
<text font-size="104" transform="translate(412.9,0) scale(1.026,1)">m</text>
<text font-size="63" transform="translate(497.3,-56.7) scale(0.804,1)">-</text>
<text font-size="63" stroke="#000" stroke-width="1.2" transform="translate(519.5,-56.7) scale(0.782,1)">1</text>
<path d="M570.9,-70.2H549.5v3.6H562.9V17.4H549.5v3.6H570.9Z"/>
</g>
</g>
</svg>
</body></html>
